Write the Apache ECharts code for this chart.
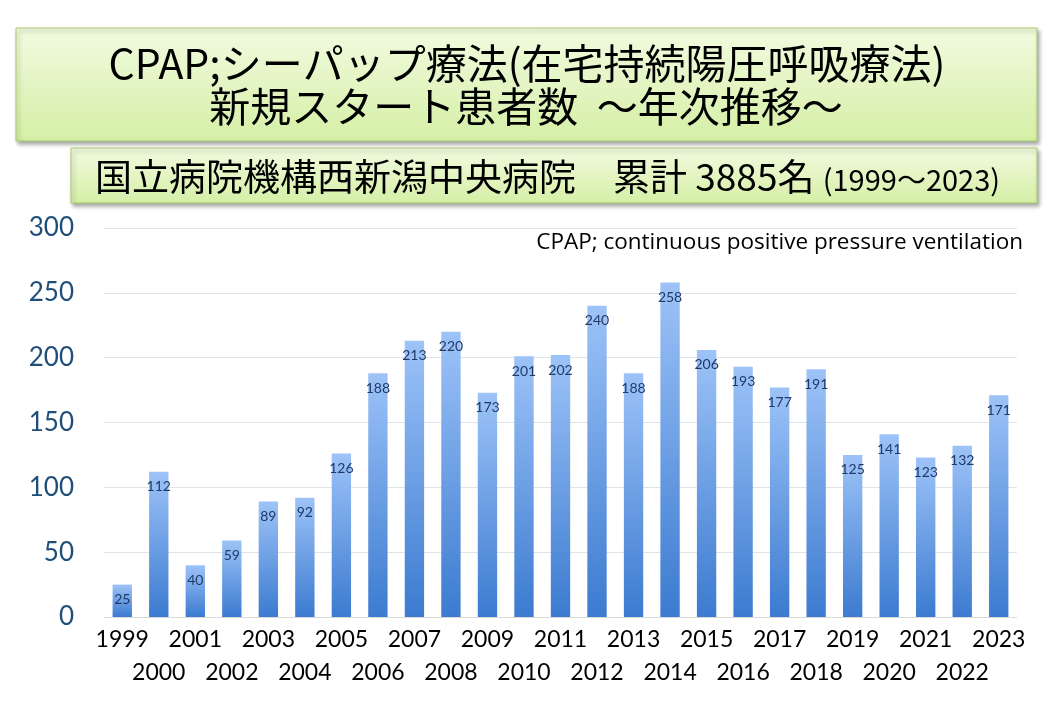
<!DOCTYPE html>
<html><head><meta charset="utf-8">
<script src="https://cdn.jsdelivr.net/npm/echarts@6/dist/echarts.min.js"></script>
<style>html,body{margin:0;padding:0;background:#fff;}#c{width:1054px;height:718px;}</style>
</head><body><div id="c"></div>
<script>
const years = ['1999','2000','2001','2002','2003','2004','2005','2006','2007','2008','2009','2010','2011','2012','2013','2014','2015','2016','2017','2018','2019','2020','2021','2022','2023'];
const patients = [25,112,40,59,89,92,126,188,213,220,173,201,202,240,188,258,206,193,177,191,125,141,123,132,171];
const yTicks = [0,50,100,150,200,250,300];
const titleLine1 = 'CPAP;シーパップ療法(在宅持続陽圧呼吸療法)';
const titleLine2 = '新規スタート患者数  ～年次推移～';
const subMain = '国立病院機構西新潟中央病院　累計 3885名 ';
const subRange = '(1999～2023)';
const note = 'CPAP; continuous positive pressure ventilation';

const chart = echarts.init(document.getElementById('c'));
const boxFill = {type:'linear',x:0,y:0,x2:0,y2:1,colorStops:[{offset:0,color:'#f2fbe0'},{offset:1,color:'#d5efa6'}]};
chart.setOption({
  animation:false,
  grid:{left:104,right:37,top:228,bottom:101},
  xAxis:{type:'category',data:years,
    axisLine:{show:true,lineStyle:{color:'#d9d9d9'}},axisTick:{show:false},
    axisLabel:{interval:0,margin:6,color:'#000',fontSize:23,fontFamily:'Lato',lineHeight:33,
      formatter:(v,i)=> i%2===0 ? v : '\n'+v}},
  yAxis:{type:'value',min:0,max:300,interval:50,
    axisLine:{show:false},axisTick:{show:false},
    splitLine:{lineStyle:{color:'#dce4ec'}},
    axisLabel:{color:'#1f4e79',fontSize:26,fontFamily:'Lato',margin:30,
      formatter:v=> yTicks.includes(v)? String(v):''}},
  series:[{type:'bar',data:patients,barWidth:'53%',
    itemStyle:{color:{type:'linear',x:0,y:0,x2:0,y2:1,colorStops:[{offset:0,color:'#9dc3f8'},{offset:1,color:'#3c7bd0'}]}},
    label:{show:true,position:'insideTop',distance:8,color:'#1f3a68',fontSize:14,fontFamily:'Lato'}}],
  graphic:[
    {type:'rect',shape:{x:16,y:28,width:1021,height:113},style:{fill:boxFill,stroke:'#a8c96c',lineWidth:1,shadowColor:'rgba(0,0,0,0.35)',shadowBlur:4,shadowOffsetX:2,shadowOffsetY:3},z:1},
    {type:'text',x:527,y:63,style:{text:titleLine1,font:'41px "Noto Sans CJK JP"',fill:'#000',align:'center',verticalAlign:'middle'},z:2},
    {type:'text',x:526,y:106,style:{text:titleLine2,font:'41px "Noto Sans CJK JP"',fill:'#000',align:'center',verticalAlign:'middle'},z:2},
    {type:'rect',shape:{x:71,y:148,width:966,height:55},style:{fill:boxFill,stroke:'#a8c96c',lineWidth:1,shadowColor:'rgba(0,0,0,0.35)',shadowBlur:4,shadowOffsetX:2,shadowOffsetY:3},z:1},
    {type:'text',x:95,y:177,style:{text:'{a|'+subMain+'}{b|'+subRange+'}',fill:'#000',align:'left',verticalAlign:'middle',
      rich:{a:{font:'37px "Noto Sans CJK JP"',fill:'#000'},b:{font:'29px "Noto Sans CJK JP"',fill:'#000',padding:[5,0,0,0]}}},z:2},
    {type:'text',x:1023,y:243,style:{text:note,font:'22.5px "Open Sans"',fill:'#000',align:'right',verticalAlign:'middle'},z:2}
  ]
});
</script></body></html>
